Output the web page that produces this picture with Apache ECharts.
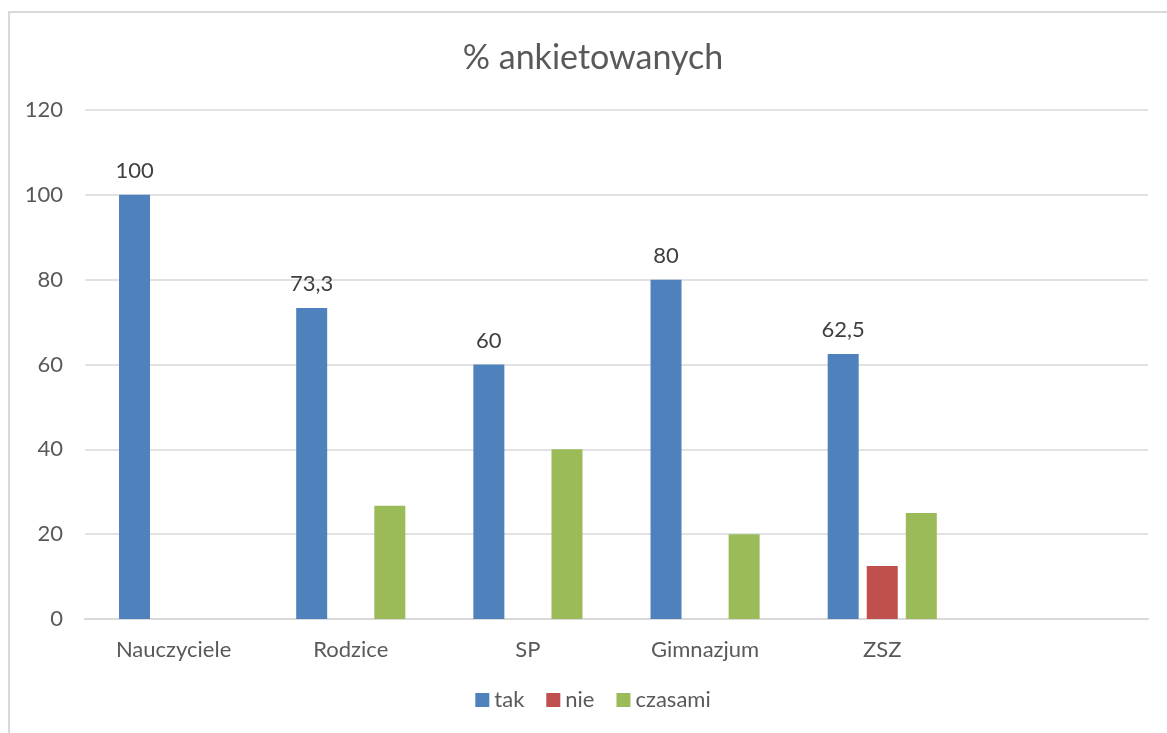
<!DOCTYPE html>
<html>
<head>
<meta charset="utf-8">
<script src="https://cdn.jsdelivr.net/npm/echarts@6/dist/echarts.min.js"></script>
<style>
  html, body { margin: 0; padding: 0; background: #fff; }
  .frame {
    position: absolute; left: 8px; top: 11px; width: 1200px; height: 740px;
    border-left: 2px solid #d9d9d9; border-top: 2px solid #d9d9d9;
  }
  #chart { position: absolute; left: 8px; top: 0; width: 1170px; height: 733px; }
</style>
</head>
<body>
<div class="frame"></div>
<div id="chart"></div>
<script>
const categories = ['Nauczyciele', 'Rodzice', 'SP', 'Gimnazjum', 'ZSZ', '']
const takValues = [100, 73.3, 60, 80, 62.5, null]
const nieValues = [null, null, null, null, 12.5, null]
const czasamiValues = [null, 26.7, 40, 20, 25, null]
const yTicks = [0, 20, 40, 60, 80, 100, 120]

const textColor = '#595959'
const font = 'Lato, "Open Sans", sans-serif'

const chart = echarts.init(document.getElementById('chart'))

const fmt = p => String(p.value).replace('.', ',')

chart.setOption({
  backgroundColor: 'transparent',
  animation: false,
  title: {
    text: '% ankietowanych',
    left: 'center',
    top: 36,
    textStyle: { color: textColor, fontSize: 34, fontWeight: 'normal', fontFamily: font }
  },
  legend: {
    bottom: 17,
    left: 'center',
    itemWidth: 14,
    itemHeight: 14,
    itemGap: 22,
    icon: 'rect',
    textStyle: { color: textColor, fontSize: 22, fontFamily: font }
  },
  grid: { left: 77, right: 30, top: 110, bottom: 114 },
  xAxis: {
    type: 'category',
    data: categories,
    axisLine: { lineStyle: { color: '#d9d9d9', width: 2 } },
    axisTick: { show: false },
    axisLabel: { color: textColor, fontSize: 22, fontFamily: font, margin: 20 }
  },
  yAxis: {
    type: 'value',
    min: yTicks[0],
    max: yTicks[yTicks.length - 1],
    interval: 20,
    axisLine: { show: false },
    axisTick: { show: false },
    splitLine: { lineStyle: { color: '#d9d9d9', width: 1.5 } },
    axisLabel: { color: textColor, fontSize: 22, fontFamily: font, margin: 22 }
  },
  series: [
    {
      name: 'tak', type: 'bar', data: takValues,
      barWidth: 31, barGap: '26%',
      itemStyle: { color: '#4f81bd' },
      label: { show: true, position: 'top', distance: 13, color: '#404040', fontSize: 22, fontFamily: font, formatter: fmt }
    },
    {
      name: 'nie', type: 'bar', data: nieValues,
      barWidth: 31, barGap: '26%',
      itemStyle: { color: '#c0504d' }
    },
    {
      name: 'czasami', type: 'bar', data: czasamiValues,
      barWidth: 31, barGap: '26%',
      itemStyle: { color: '#9bbb59' }
    }
  ]
})

window.addEventListener('resize', () => chart.resize())
</script>
</body>
</html>
